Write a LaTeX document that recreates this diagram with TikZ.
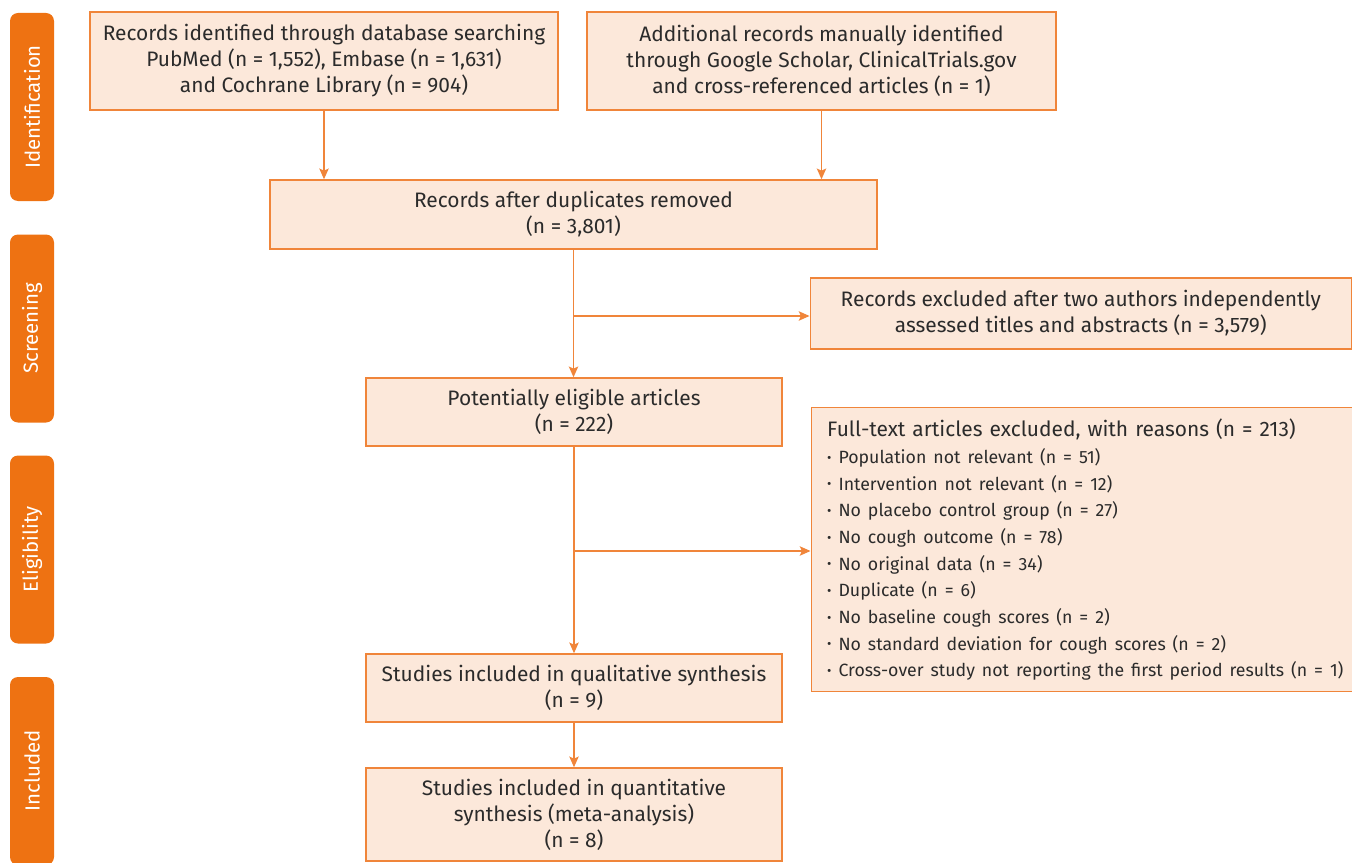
\documentclass[tikz,border=0pt]{standalone}
\usepackage{fontspec}
\setmainfont{Fira Sans}
\usetikzlibrary{arrows.meta,positioning}
\definecolor{Tab}{HTML}{EE7212}
\definecolor{Edge}{HTML}{F0853A}
\definecolor{Fill}{HTML}{FCE8DA}
\definecolor{Ink}{HTML}{2B2B2B}
\newcommand{\pt}{{\fontsize{10}{10}\selectfont\raisebox{1pt}{•}}\ }

\begin{document}
\begin{tikzpicture}[x=0.75pt,y=-0.75pt,
    box/.style={draw=Edge,fill=Fill,line width=1.1pt,align=center,text=Ink,
      font=\fontsize{15.7}{19.5}\selectfont,inner sep=0pt},
    tab/.style={fill=Tab,rounded corners=6pt,minimum width=33pt,minimum height=141pt,
      inner sep=0pt},
    flow/.style={draw=Edge,line width=1.1pt,-{Stealth[length=8pt,width=7pt,inset=1.5pt]}},
    link/.style={draw=Edge,line width=1.1pt}]
  \useasboundingbox (0,0) rectangle (1352,863);
  % phase tabs on the left
  \foreach \y/\lab in {107/Identification,328.5/Screening,549.5/Eligibility,771/Included} {
    \node[tab] (tab-\lab) at (32,\y) {};
    \node[rotate=90,text=white,font=\fontsize{15.3}{16}\selectfont] at (tab-\lab) {\lab};
  }
  % boxes
  \node[box,minimum width=351pt,minimum height=73.5pt] (dbs) at (324,61)
    {Records identified through database searching\\
     PubMed (n = 1,552), Embase (n = 1,631)\\
     and Cochrane Library (n = 904)};
  \node[box,minimum width=351.75pt,minimum height=73.5pt] (manual) at (821.5,61)
    {Additional records manually identified\\
     through Google Scholar, ClinicalTrials.gov\\
     and cross-referenced articles (n = 1)};
  \node[box,minimum width=455.25pt,minimum height=51.75pt] (dedup) at (573.5,214.5)
    {Records after duplicates removed\\(n = 3,801)};
  \node[box,minimum width=405.75pt,minimum height=53.25pt] (exscr) at (1080.75,313.5)
    {Records excluded after two authors independently\\
     assessed titles and abstracts (n = 3,579)};
  \node[box,minimum width=312pt,minimum height=51pt] (elig) at (574,412)
    {Potentially eligible articles\\(n = 222)};
  \node[box,minimum width=405.75pt,minimum height=213pt,align=left,anchor=north west,
    text width=405.75pt] (exfull) at (810.5,407)
    {\leftskip=12pt\relax
     Full-text articles excluded, with reasons (n = 213)\\[0pt]
     {\fontsize{13.3}{20}\selectfont
     \pt Population not relevant (n = 51)\\
     \pt Intervention not relevant (n = 12)\\
     \pt No placebo control group (n = 27)\\
     \pt No cough outcome (n = 78)\\
     \pt No original data (n = 34)\\
     \pt Duplicate (n = 6)\\
     \pt No baseline cough scores (n = 2)\\
     \pt No standard deviation for cough scores (n = 2)\\
     \pt Cross-over study not reporting the first period results (n~=~1)\par}};
  \node[box,minimum width=312pt,minimum height=51pt] (qual) at (574,688)
    {Studies included in qualitative synthesis\\(n = 9)};
  \node[box,minimum width=312pt,minimum height=69.75pt] (quant) at (574,814.5)
    {Studies included in quantitative\\synthesis (meta-analysis)\\(n = 8)};
  % connectors
  \coordinate (split1) at (573.5,316);
  \coordinate (split2) at (573.5,551);
  \draw[flow] (dbs.south) -- (dbs.south |- dedup.north);
  \draw[flow] (manual.south) -- (manual.south |- dedup.north);
  \draw[flow] (dedup.south) -- (dedup.south |- elig.north);
  \draw[flow] (split1) -- (split1 -| exscr.west);
  \draw[flow] (elig.south) -- (elig.south |- qual.north);
  \draw[flow] (split2) -- (split2 -| exfull.west);
  \draw[flow] (qual.south) -- (quant.north);
\end{tikzpicture}
\end{document}
